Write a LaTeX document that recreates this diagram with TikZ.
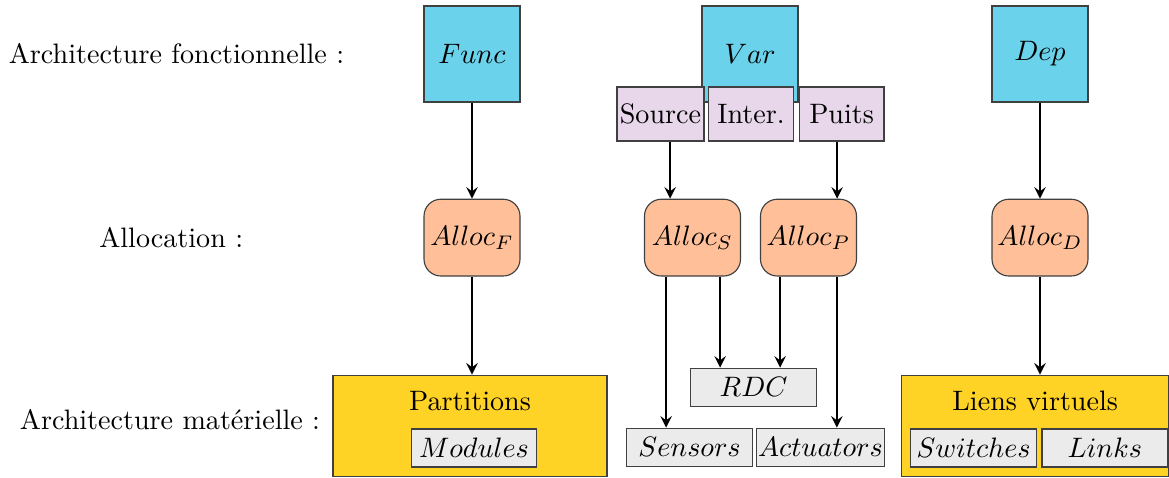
\documentclass[tikz,border=0pt]{standalone}
\usepackage{xcolor}
\usepackage{amsmath,amssymb}
\usepackage{tikz}

\definecolor{archblue}{HTML}{6AD2EB}
\definecolor{varpink}{HTML}{E8D6EA}
\definecolor{allocsalmon}{HTML}{FFBF99}
\definecolor{hwyellow}{HTML}{FFD325}
\definecolor{compgray}{HTML}{EBEBEB}

\begin{document}
\begin{tikzpicture}[
  archbox/.style={draw=black!75, fill=archblue, minimum width=1.2cm,
    minimum height=1.2cm, inner sep=1pt},
  varpart/.style={draw=black!75, fill=varpink, minimum width=1.06cm,
    minimum height=0.675cm, inner sep=1pt},
  allocbox/.style={draw=black!75, fill=allocsalmon, rounded corners=6pt,
    minimum width=1.2cm, minimum height=0.96cm, inner sep=1pt},
  hwbox/.style={draw=black!75, fill=hwyellow, minimum width=3.4cm,
    minimum height=1.2625cm, inner sep=0pt},
  comp/.style={draw=black!75, fill=compgray, minimum width=1.57cm,
    minimum height=0.475cm, inner sep=0.5pt},
  arrow/.style={-stealth, thick},
  layer/.style={font=\normalsize}
]
\useasboundingbox (0,0) rectangle (14.6125,-5.9625);

\node[layer] (lfonc) at (2.206,-0.675) {Architecture fonctionnelle :};
\node[layer] (lalloc) at (2.14,-2.97) {Allocation :};
\node[layer] (lmat) at (2.125,-5.25) {Architecture mat\'erielle :};

\node[archbox] (func) at (5.90,-0.675) {$Func$};
\node[archbox] (var) at (9.375,-0.675) {$Var$};
\node[archbox] (dep) at (13.0,-0.675) {$Dep$};

\node[varpart] (source) at (8.256,-1.425) {Source};
\node[varpart] (inter) at (9.3875,-1.425) {Inter.};
\node[varpart] (puits) at (10.52,-1.425) {Puits};

\node[allocbox] (allocF) at (5.90,-2.97) {$Alloc_F$};
\node[allocbox] (allocS) at (8.656,-2.97) {$Alloc_S$};
\node[allocbox] (allocP) at (10.106,-2.97) {$Alloc_P$};
\node[allocbox] (allocD) at (13.0,-2.97) {$Alloc_D$};

\node[hwbox, minimum width=3.425cm] (partitions) at (5.875,-5.32) {};
\node (partlbl) at (5.875,-5.01) {Partitions};
\node[comp] (modules) at (5.925,-5.6) {$Modules$};

\node[hwbox, minimum width=3.34cm] (liens) at (12.94,-5.32) {};
\node (lienslbl) at (12.94,-5.01) {Liens virtuels};
\node[comp] (switches) at (12.17,-5.6) {$Switches$};
\node[comp] (links) at (13.81,-5.6) {$Links$};

\node[comp] (rdc) at (9.42,-4.84) {$RDC$};
\node[comp] (sensors) at (8.62,-5.59) {$Sensors$};
\node[comp] (actuators) at (10.256,-5.59) {$Actuators$};

% functions and dependencies
\draw[arrow] (func) -- (allocF);
\draw[arrow] (allocF) -- (allocF |- partitions.north);
\draw[arrow] (dep) -- (allocD);
\draw[arrow] (allocD) -- (allocD |- liens.north);

% variables
\draw[arrow] ([xshift=0.12cm]source.south) -- ([xshift=0.12cm]source.south |- allocS.north);
\draw[arrow] ([xshift=-0.056cm]puits.south) -- ([xshift=-0.056cm]puits.south |- allocP.north);
\draw[arrow] ([xshift=-0.33cm]allocS.south) -- ([xshift=-0.33cm]allocS.south |- sensors.north);
\draw[arrow] ([xshift=0.345cm]allocS.south) -- ([xshift=0.345cm]allocS.south |- rdc.north);
\draw[arrow] ([xshift=-0.355cm]allocP.south) -- ([xshift=-0.355cm]allocP.south |- rdc.north);
\draw[arrow] ([xshift=0.355cm]allocP.south) -- ([xshift=0.355cm]allocP.south |- actuators.north);
\end{tikzpicture}
\end{document}
